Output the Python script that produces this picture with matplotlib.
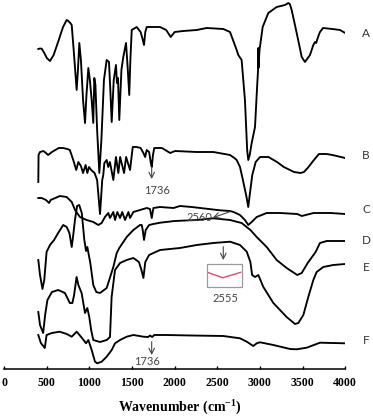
import numpy as np
import matplotlib
matplotlib.use("Agg")
import matplotlib.pyplot as plt

# FTIR spectra (y = offset depth, arbitrary units, larger = lower on page)
wn_a = [400, 420, 440, 470, 500, 537, 580, 640, 690, 733, 752, 775, 792, 815, 850, 865, 881, 900,
        925, 948, 965, 987, 1005, 1026, 1045, 1057, 1070, 1090, 1116, 1140, 1170, 1202, 1229, 1245,
        1261, 1285, 1311, 1323, 1335, 1350, 1375, 1397, 1429, 1450, 1467, 1480, 1496, 1554, 1600,
        1620, 1640, 1655, 1672, 1750, 1828, 1900, 1953, 2000, 2100, 2258, 2375, 2570, 2649, 2688,
        2727, 2746, 2785, 2824, 2850, 2863, 2880, 2903, 2942, 2969, 2978, 2980, 2983, 2995, 3032,
        3098, 3196, 3294, 3333, 3350, 3372, 3431, 3490, 3528, 3587, 3626, 3646, 3660, 3670, 3690,
        3704, 3740, 3850, 3939, 4000]
y_a = [49, 48.5, 48.7, 53, 58, 61, 55, 40, 27, 20, 21, 23, 25, 50, 90, 70, 43, 60,
       100, 123, 95, 68, 80, 100, 123, 78, 85, 130, 173, 140, 80, 60, 62, 90,
       122, 80, 65, 83, 78, 120, 70, 57, 43, 70, 95, 60, 30, 27, 32,
       38, 45, 32, 27, 27, 27, 30, 37, 32, 31, 30, 28, 29, 32, 41,
       50, 55, 60, 100, 150, 160, 155, 143, 127, 83, 70, 48, 68, 50, 27,
       13, 7, 5, 3, 4, 10, 33, 57, 62, 55, 45, 42, 43, 40, 35,
       32, 28, 29, 30, 33]

wn_b = [400, 403, 420, 460, 490, 515, 560, 640, 692, 740, 770, 790, 810, 845, 870, 900, 925, 955,
        975, 995, 1020, 1060, 1090, 1124, 1150, 1162, 1175, 1202, 1220, 1240, 1280, 1311, 1339,
        1360, 1406, 1430, 1476, 1508, 1554, 1600, 1633, 1653, 1672, 1700, 1720, 1731, 1745, 1760,
        1850, 1947, 2005, 2258, 2453, 2649, 2700, 2727, 2766, 2800, 2840, 2863, 2880, 2910, 2950,
        3001, 3100, 3200, 3280, 3400, 3476, 3516, 3560, 3633, 3692, 3780, 3850, 4000]
y_b = [182, 155, 152, 151, 153, 155, 152, 148, 148, 149, 150, 155, 160, 170, 162, 166, 173, 165,
       173, 167, 170, 173, 180, 214, 180, 175, 163, 160, 167, 162, 180, 157, 173,
       157, 173, 157, 170, 147, 147, 148, 153, 157, 150, 152, 163, 167, 155, 148,
       148, 153, 151, 152, 152, 155, 158, 160, 167, 180, 196, 207, 195, 175, 162,
       157, 157, 162, 167, 172, 173, 172, 168, 160, 154, 154, 155, 158]

wn_c = [400, 440, 490, 527, 545, 653, 733, 792, 831, 888, 967, 1045, 1104, 1143, 1182, 1221, 1241,
        1280, 1300, 1327, 1359, 1385, 1418, 1457, 1476, 1515, 1593, 1672, 1710, 1731, 1750, 1828,
        1986, 2062, 2200, 2300, 2400, 2500, 2560, 2649, 2691, 2766, 2824, 2863, 2903, 2962, 3079,
        3235, 3438, 3490, 3630, 3830, 4000]
y_c = [198, 198, 200, 203, 200, 196, 197, 202, 210, 217, 220, 222, 225, 223, 217, 213, 218,
       212, 220, 212, 218, 212, 220, 212, 218, 212, 210, 208, 209, 218, 208, 207,
       208, 206, 207, 208, 209, 210, 210.5, 211, 212, 215, 220, 225, 222, 217, 213,
       213, 214, 216, 213, 213, 214]

wn_d = [400, 420, 449, 470, 497, 537, 585, 633, 692, 733, 765, 792, 810, 830, 855, 880, 910, 940,
        960, 975, 1010, 1045, 1080, 1124, 1202, 1280, 1320, 1350, 1437, 1515, 1593, 1613, 1625,
        1640, 1660, 1700, 1750, 1828, 2000, 2258, 2453, 2649, 2785, 2888, 2962, 3079, 3196, 3313,
        3438, 3490, 3560, 3653, 3704, 3783, 4000]
y_d = [260, 275, 289, 280, 252, 245, 240, 233, 225, 227, 233, 247, 235, 220, 206, 205, 213, 240,
       251, 247, 263, 285, 292, 293, 288, 267, 253, 248, 237, 230, 225, 225, 230,
       240, 230, 225, 224, 222.7, 221, 220, 218.3, 220, 223, 230, 237, 247, 260, 268,
       275, 273, 263, 252, 243, 241, 241]

wn_e = [400, 420, 457, 480, 507, 560, 633, 712, 770, 800, 820, 849, 870, 908, 948, 975, 998, 1020,
        1045, 1124, 1202, 1241, 1260, 1300, 1359, 1437, 1515, 1580, 1610, 1633, 1655, 1700, 1750,
        1828, 2062, 2258, 2453, 2649, 2766, 2845, 2888, 2908, 2942, 2981, 3040, 3157, 3313, 3411,
        3450, 3509, 3567, 3626, 3665, 3743, 3860, 4000]
y_e = [312, 325, 333, 315, 300, 292, 290, 293, 303, 303, 295, 277, 285, 293, 313, 308, 317, 330,
       340, 342, 340, 337, 297, 270, 263, 260, 258, 262, 270, 278, 262, 255, 253,
       250, 248, 245, 243, 241.7, 245, 251.7, 262, 275, 277, 275, 287, 303, 317, 324,
       323, 315, 297, 280, 272, 267, 265, 264]

wn_f = [400, 430, 476, 497, 560, 650, 733, 792, 850, 900, 960, 987, 1026, 1065, 1092, 1143, 1202,
        1261, 1300, 1359, 1437, 1515, 1633, 1690, 1710, 1736, 1760, 1900, 2200, 2570, 2766, 2845,
        2922, 2962, 3001, 3157, 3353, 3431, 3548, 3704, 4000]
y_f = [335, 343, 348, 335, 333, 331.7, 334, 336.7, 331.7, 336.7, 343.3, 340, 350, 361.7, 363.3,
       361.7, 356.7, 350, 343.3, 340, 336.7, 335, 336.7, 337, 335.5, 337, 335, 335, 335.5, 336,
       338.3, 341.7, 346, 343.3, 342.3, 345, 349, 349.3, 347.7, 342.7, 343.3]

# inset trace near 2555
wn_inset = [2396, 2565, 2774]
y_inset = [272.7, 277.7, 272.3]

spectra = [(wn_a, y_a), (wn_b, y_b), (wn_c, y_c), (wn_d, y_d), (wn_e, y_e), (wn_f, y_f)]
names = ["A", "B", "C", "D", "E", "F"]
name_y = [33.3, 155.7, 209.3, 241, 267.7, 340]

plt.rcParams['mathtext.fontset'] = 'custom'
plt.rcParams['mathtext.rm'] = 'Liberation Serif:bold'
plt.rcParams['mathtext.default'] = 'rm'

fig = plt.figure(figsize=(3.73, 4.18), dpi=100)
ax = fig.add_axes([4.2 / 373, 49 / 418, 341 / 373, 369 / 418])

for wn, y in spectra:
    ax.plot(wn, y, color='black', lw=1.35, solid_joinstyle='round')

ax.set_xlim(0, 4000)
ax.set_ylim(369, 0)
for s in ['top', 'right', 'left']:
    ax.spines[s].set_visible(False)
ax.spines['bottom'].set_linewidth(1.1)
ax.set_yticks([])
ax.set_xticks(np.arange(0, 4001, 500))
ax.tick_params(axis='x', direction='in', length=2.5, width=1.0, pad=6)
for lab in ax.get_xticklabels():
    lab.set_fontfamily('Liberation Serif')
    lab.set_fontweight('bold')
    lab.set_fontsize(8.5)

fig.text(180 / 373, 1 - 408 / 418, r'Wavenumber (cm$^{-1}$)', ha='center', va='center',
         fontsize=10, fontweight='bold', family='Liberation Serif')

for n, yy in zip(names, name_y):
    ax.text(4244, yy, n, ha='center', va='center', fontsize=8.5, family='Lato',
            color='#333333', clip_on=False)

txt = dict(fontsize=8, family='Lato', color='#444444', ha='center', va='center')
arw = dict(arrowstyle='->', color='#444444', lw=0.8, shrinkA=0, shrinkB=0)

ax.annotate('', xy=(1730, 179), xytext=(1730, 167), arrowprops=arw)
ax.text(1789, 190.7, '1736', **txt)
ax.annotate('', xy=(1730, 355), xytext=(1730, 341.7), arrowprops=arw)
ax.text(1679, 361.7, '1736', **txt)
ax.annotate('', xy=(2446, 217.7), xytext=(2649, 211.7), arrowprops=arw)
ax.text(2291, 217.7, '2560', **txt)
ax.annotate('', xy=(2570, 260), xytext=(2570, 246.7), arrowprops=arw)
ax.text(2590, 298.3, '2555', **txt)

ax.add_patch(plt.Rectangle((2382, 264.3), 404, 22.4, fill=False, edgecolor='#9a9a9a', lw=0.9))
ax.plot(wn_inset, y_inset, color='#e8486e', lw=1.0)

fig.savefig('out.png', dpi=100)
